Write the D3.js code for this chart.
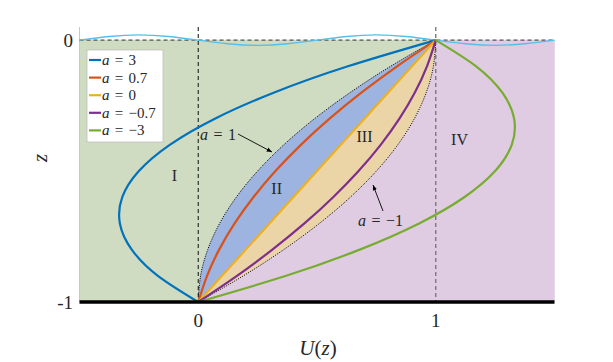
<!DOCTYPE html>
<html>
<head>
<meta charset="utf-8">
<script src="https://cdn.jsdelivr.net/npm/d3@7"></script>
<style>
  body { margin: 0; background: #fff; }
  text { font-family: "Liberation Serif", "DejaVu Serif", serif; fill: #262626; }
</style>
</head>
<body>
<script>
// depth samples z and the velocity profile U(z) for each parameter a
const zVals = [-1, -0.9, -0.8, -0.7, -0.6, -0.5, -0.4, -0.3, -0.2, -0.1, 0];
const uA3 = [0, -0.17, -0.28, -0.33, -0.32, -0.25, -0.12, 0.07, 0.32, 0.63, 1];
const uA07 = [0, 0.037, 0.088, 0.153, 0.232, 0.325, 0.432, 0.553, 0.688, 0.837, 1];
const uA0 = [0, 0.1, 0.2, 0.3, 0.4, 0.5, 0.6, 0.7, 0.8, 0.9, 1];
const uAm07 = [0, 0.163, 0.312, 0.447, 0.568, 0.675, 0.768, 0.847, 0.912, 0.963, 1];
const uAm3 = [0, 0.37, 0.68, 0.93, 1.12, 1.25, 1.32, 1.33, 1.28, 1.17, 1];
// boundary curves (dotted)
const uA1 = [0, 0.01, 0.04, 0.09, 0.16, 0.25, 0.36, 0.49, 0.64, 0.81, 1];
const uAm1 = [0, 0.19, 0.36, 0.51, 0.64, 0.75, 0.84, 0.91, 0.96, 0.99, 1];

// surface wave drawn above z = 0
const waveU = [-0.5, -0.375, -0.25, -0.125, 0, 0.125, 0.25, 0.375, 0.5, 0.625, 0.75, 0.875, 1, 1.125, 1.25, 1.375, 1.5];
const waveZ = [0, 0.014, 0.02, 0.014, 0, -0.014, -0.02, -0.014, 0, 0.014, 0.02, 0.014, 0, -0.014, -0.02, -0.014, 0];

const seriesValuesText = ["3", "0.7", "0", "−0.7", "−3"];
const seriesValues = [uA3, uA07, uA0, uAm07, uAm3];
const seriesColors = ["#0072BD", "#D95319", "#EDB120", "#7E2F8E", "#77AC30"];

const xTicks = [0, 1];
const yTicks = [-1, 0];
const regionLabels = [
  { text: "I", u: -0.1, z: -0.52 },
  { text: "II", u: 0.33, z: -0.57 },
  { text: "III", u: 0.7, z: -0.37 },
  { text: "IV", u: 1.1, z: -0.38 },
];

const width = 613;
const height = 362;

const x = d3.scaleLinear().domain([-0.5, 1.5]).range([79.5, 554.5]);
const y = d3.scaleLinear().domain([-1, 0.05]).range([302, 27]);

const svg = d3
  .select("body")
  .append("svg")
  .attr("width", width)
  .attr("height", height);

// filled regions
const band = (lo, hi) =>
  d3
    .area()
    .curve(d3.curveNatural)
    .y((d, i) => y(zVals[i]))
    .x0((d, i) => x(typeof lo === "number" ? lo : lo[i]))
    .x1((d, i) => x(typeof hi === "number" ? hi : hi[i]))(zVals);

const regions = [
  { lo: -0.5, hi: uA1, fill: "#cfdcc1" },
  { lo: uA1, hi: uA0, fill: "#9db3e0" },
  { lo: uA0, hi: uAm1, fill: "#ebd5a7" },
  { lo: uAm1, hi: 1.5, fill: "#dfcce2" },
];

svg
  .append("g")
  .selectAll("path")
  .data(regions)
  .join("path")
  .attr("d", (r) => band(r.lo, r.hi))
  .attr("fill", (r) => r.fill)
  .attr("stroke", (r) => r.fill)
  .attr("stroke-width", 0.5);

// left axis line
svg
  .append("line")
  .attr("x1", x(-0.5))
  .attr("x2", x(-0.5))
  .attr("y1", y(0.05))
  .attr("y2", y(-1))
  .attr("stroke", "#c8c8c8")
  .attr("stroke-width", 1);

// dashed guides
svg
  .append("line")
  .attr("x1", x(-0.5))
  .attr("x2", x(1.5))
  .attr("y1", y(0))
  .attr("y2", y(0))
  .attr("stroke", "#555")
  .attr("stroke-width", 1.1)
  .attr("stroke-dasharray", "4,3");

svg
  .append("line")
  .attr("x1", x(0))
  .attr("x2", x(0))
  .attr("y1", y(0.05))
  .attr("y2", y(-1))
  .attr("stroke", "#222")
  .attr("stroke-width", 1.1)
  .attr("stroke-dasharray", "4,3");

svg
  .append("line")
  .attr("x1", x(1))
  .attr("x2", x(1))
  .attr("y1", y(0.05))
  .attr("y2", y(-1))
  .attr("stroke", "#7a7a7a")
  .attr("stroke-width", 1.4)
  .attr("stroke-dasharray", "4,3");

// wave
svg
  .append("path")
  .attr(
    "d",
    d3
      .line()
      .curve(d3.curveNatural)
      .x((d, i) => x(waveU[i]))
      .y((d) => y(d))(waveZ)
  )
  .attr("fill", "none")
  .attr("stroke", "#55bfec")
  .attr("stroke-width", 1.4);

const profile = (us) =>
  d3
    .line()
    .curve(d3.curveNatural)
    .x((d) => x(d))
    .y((d, i) => y(zVals[i]))(us);

// dotted boundaries
svg
  .append("g")
  .selectAll("path")
  .data([uA1, uAm1])
  .join("path")
  .attr("d", profile)
  .attr("fill", "none")
  .attr("stroke", "#000")
  .attr("stroke-width", 1)
  .attr("stroke-dasharray", "1,1.3");

// profiles
svg
  .append("g")
  .selectAll("path")
  .data(seriesValues)
  .join("path")
  .attr("d", profile)
  .attr("fill", "none")
  .attr("stroke", (d, i) => seriesColors[i])
  .attr("stroke-width", 2.2);

// bottom wall
svg
  .append("line")
  .attr("x1", x(-0.5))
  .attr("x2", x(1.5))
  .attr("y1", y(-1))
  .attr("y2", y(-1))
  .attr("stroke", "#000")
  .attr("stroke-width", 3.5);

// tick labels
svg
  .append("g")
  .selectAll("text")
  .data(xTicks)
  .join("text")
  .attr("x", (d) => x(d))
  .attr("y", 327)
  .attr("text-anchor", "middle")
  .attr("font-size", 19)
  .text((d) => d);

svg
  .append("g")
  .selectAll("text")
  .data(yTicks)
  .join("text")
  .attr("x", 73)
  .attr("y", (d) => y(d) + 6.5)
  .attr("text-anchor", "end")
  .attr("font-size", 19)
  .text((d) => d);

// axis titles
const xTitle = svg
  .append("text")
  .attr("x", 318)
  .attr("y", 355)
  .attr("text-anchor", "middle")
  .attr("font-size", 21);
xTitle.append("tspan").attr("font-style", "italic").text("U");
xTitle.append("tspan").text("(");
xTitle.append("tspan").attr("font-style", "italic").text("z");
xTitle.append("tspan").text(")");

svg
  .append("text")
  .attr("transform", "translate(47 158) rotate(-90)")
  .attr("text-anchor", "middle")
  .attr("font-size", 21)
  .attr("font-style", "italic")
  .text("z");

// region labels
svg
  .append("g")
  .selectAll("text")
  .data(regionLabels)
  .join("text")
  .attr("x", (d) => x(d.u))
  .attr("y", (d) => y(d.z) + 5)
  .attr("text-anchor", "middle")
  .attr("font-size", 16)
  .text((d) => d.text);

// "a = value" in math style
const mathLabel = (sel, value) => {
  sel.append("tspan").attr("font-style", "italic").text("a");
  sel.append("tspan").attr("dx", 1.5).text(" = ");
  sel.append("tspan").attr("dx", 1.5).text(value);
};

// annotations with arrows
svg
  .append("defs")
  .append("marker")
  .attr("id", "arrow")
  .attr("viewBox", "0 0 10 10")
  .attr("refX", 10)
  .attr("refY", 5)
  .attr("markerWidth", 6)
  .attr("markerHeight", 6)
  .attr("orient", "auto")
  .append("path")
  .attr("d", "M0,1L10,5L0,9Z")
  .attr("fill", "#000");

const annotations = [
  { label: "1", tx: 200, ty: 140, x1: 238, y1: 134, x2: 272, y2: 152 },
  { label: "−1", tx: 358, ty: 226, x1: 383, y1: 211, x2: 373, y2: 185 },
];

annotations.forEach((a) => {
  const t = svg.append("text").attr("x", a.tx).attr("y", a.ty).attr("font-size", 16);
  mathLabel(t, a.label);
  svg
    .append("line")
    .attr("x1", a.x1)
    .attr("y1", a.y1)
    .attr("x2", a.x2)
    .attr("y2", a.y2)
    .attr("stroke", "#000")
    .attr("stroke-width", 0.9)
    .attr("marker-end", "url(#arrow)");
});

// legend
const legend = svg.append("g").attr("transform", "translate(87 50)");
legend
  .append("rect")
  .attr("width", 76)
  .attr("height", 92)
  .attr("fill", "#fff")
  .attr("stroke", "#bdbdbd")
  .attr("stroke-width", 0.8);

const items = legend
  .selectAll("g")
  .data(seriesValuesText)
  .join("g")
  .attr("transform", (d, i) => `translate(0 ${10 + i * 17.6})`);

items
  .append("line")
  .attr("x1", 2)
  .attr("x2", 14)
  .attr("stroke", (d, i) => seriesColors[i])
  .attr("stroke-width", 2.2);

items.each(function (d) {
  const t = d3.select(this).append("text").attr("x", 15).attr("y", 5).attr("font-size", 15);
  mathLabel(t, d);
});
</script>
</body>
</html>
